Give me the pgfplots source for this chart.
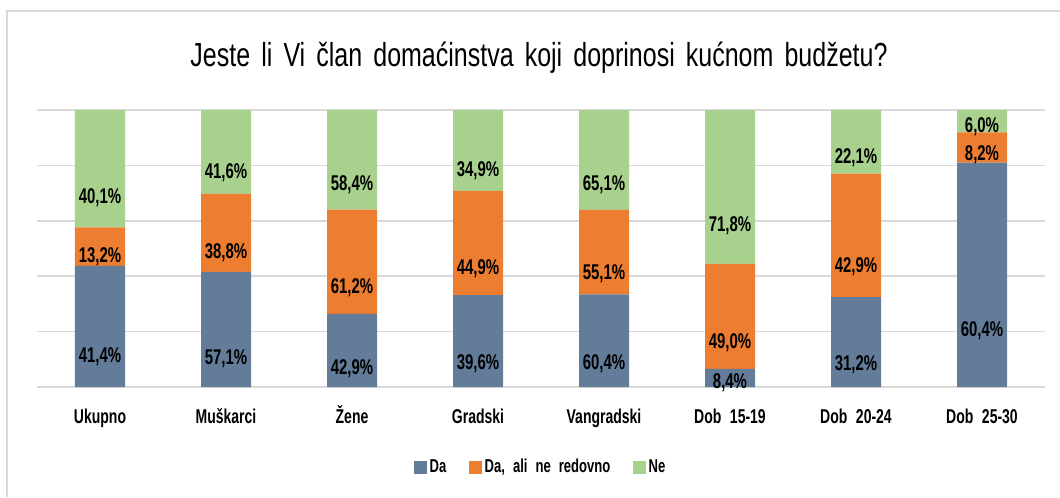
\documentclass[border=0pt]{standalone}
\usepackage{pgfplots}
\usepackage{pgfplotstable}
\pgfplotsset{compat=1.18}
\usepackage{fontspec}
\setmainfont{Liberation Sans}[FakeStretch=0.82]
\newfontfamily\cond{Liberation Sans}[FakeStretch=0.7, WordSpace=2.2]
\newfontfamily\titlefont{Liberation Sans}[FakeStretch=0.75, WordSpace=1.6]

\definecolor{cDa}{HTML}{637C9A}
\definecolor{cDali}{HTML}{ED7D31}
\definecolor{cNe}{HTML}{A9D18E}
\definecolor{gridgray}{HTML}{D9D9D9}

% raw survey answers (%), bars are drawn as 100% stacked
\pgfplotstableread{
x Da Dali Ne
0 41.4 13.2 40.1
1 57.1 38.8 41.6
2 42.9 61.2 58.4
3 39.6 44.9 34.9
4 60.4 55.1 65.1
5 8.4 49.0 71.8
6 31.2 42.9 22.1
7 60.4 8.2 6.0
}\data

\begin{document}
\begin{tikzpicture}
\path[use as bounding box] (0,0) rectangle (795pt,372.75pt);
\draw[gridgray, line width=0.8pt] (5.25pt,0) -- (5.25pt,364.5pt) -- (795pt,364.5pt);
\node[anchor=base, font=\titlefont\fontsize{25}{29}\selectfont] at (404.25pt,322.5pt)
  {Jeste li Vi član domaćinstva koji doprinosi kućnom budžetu?};
\begin{axis}[
    at={(27.75pt,82.5pt)}, anchor=south west,
    scale only axis, width=756pt, height=207.75pt,
    ybar stacked, bar width=37.5pt,
    xmin=-0.5, xmax=7.5, ymin=0, ymax=100,
    xtick=data,
    xticklabels={Ukupno, Muškarci, Žene, Gradski, Vangradski, Dob 15-19, Dob 20-24, Dob 25-30},
    xticklabel style={anchor=base, yshift=-27pt, font=\cond\fontsize{15}{17}\selectfont\bfseries},
    ytick={0,20,40,60,80,100}, yticklabels={},
    ymajorgrids, major grid style={gridgray, line width=1.2pt},
    axis line style={draw=none}, tick style={draw=none},
    clip=false,
    point meta=explicit,
    nodes near coords={\pgfmathprintnumber[fixed,fixed zerofill,precision=1,use comma]{\pgfplotspointmeta}\%},
    every node near coord/.append style={anchor=center, text=black,
        font=\cond\fontsize{16}{18}\selectfont\bfseries,
        yshift={-0.519375pt*\segh}},
    /pgf/number format/assume math mode=true,
    legend columns=3,
    legend style={at={(0.50,-0.289)}, anchor=center, draw=none,
        font=\cond\fontsize{14}{16}\selectfont\bfseries,
        /tikz/every even column/.append style={column sep=15pt}},
    legend image code/.code={\fill[#1] (0pt,-4.9pt) rectangle (9.75pt,4.9pt);},
]
\addplot[fill=cDa, draw=none,
  visualization depends on={100*\thisrow{Da}/(\thisrow{Da}+\thisrow{Dali}+\thisrow{Ne}) \as \segh}]
  table[x=x, y expr={100*\thisrow{Da}/(\thisrow{Da}+\thisrow{Dali}+\thisrow{Ne})}, meta=Da] {\data};
\addplot[fill=cDali, draw=none,
  visualization depends on={100*\thisrow{Dali}/(\thisrow{Da}+\thisrow{Dali}+\thisrow{Ne}) \as \segh}]
  table[x=x, y expr={100*\thisrow{Dali}/(\thisrow{Da}+\thisrow{Dali}+\thisrow{Ne})}, meta=Dali] {\data};
\addplot[fill=cNe, draw=none,
  visualization depends on={100*\thisrow{Ne}/(\thisrow{Da}+\thisrow{Dali}+\thisrow{Ne}) \as \segh}]
  table[x=x, y expr={100*\thisrow{Ne}/(\thisrow{Da}+\thisrow{Dali}+\thisrow{Ne})}, meta=Ne] {\data};
\legend{Da, {Da, ali ne redovno}, Ne}
\end{axis}
\end{tikzpicture}
\end{document}
